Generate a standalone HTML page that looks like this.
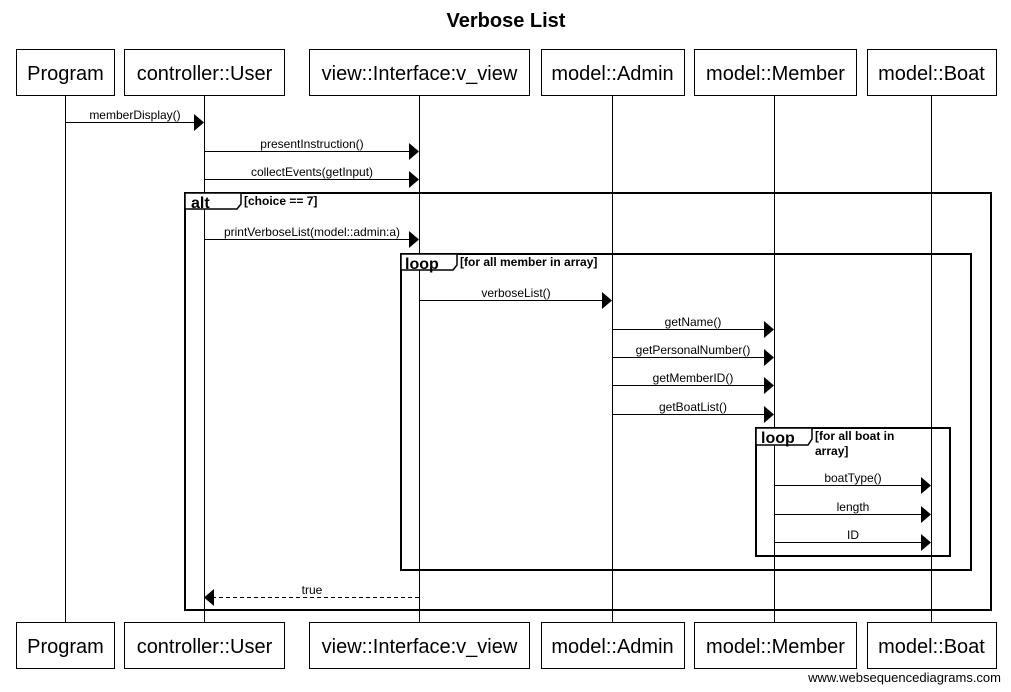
<!DOCTYPE html>
<html><head><style>
html,body{margin:0;padding:0;background:#fff;}
svg{display:block;font-family:"Liberation Sans",sans-serif;}
.b{font-size:20px;}
.m{font-size:12px;}
.f{font-size:12px;font-weight:bold;}
</style></head><body>
<svg width="1011" height="692" viewBox="0 0 1011 692">
<rect width="1011" height="692" fill="#fff"/>
<text x="506" y="27" text-anchor="middle" font-size="20" font-weight="bold">Verbose List</text>
<g stroke="#000" stroke-width="1">
<line x1="65.5" y1="95" x2="65.5" y2="622"/>
<line x1="204.5" y1="95" x2="204.5" y2="622"/>
<line x1="419.5" y1="95" x2="419.5" y2="622"/>
<line x1="612.5" y1="95" x2="612.5" y2="622"/>
<line x1="774.5" y1="95" x2="774.5" y2="622"/>
<line x1="931.5" y1="95" x2="931.5" y2="622"/>
</g>
<g fill="#fff" stroke="#000" stroke-width="1">
<rect x="16.5" y="49.5" width="98" height="46"/>
<rect x="124.5" y="49.5" width="160" height="46"/>
<rect x="309.5" y="49.5" width="220" height="46"/>
<rect x="541.5" y="49.5" width="143" height="46"/>
<rect x="694.5" y="49.5" width="162" height="46"/>
<rect x="867.5" y="49.5" width="129" height="46"/>
<rect x="16.5" y="622.5" width="98" height="46"/>
<rect x="124.5" y="622.5" width="160" height="46"/>
<rect x="309.5" y="622.5" width="220" height="46"/>
<rect x="541.5" y="622.5" width="143" height="46"/>
<rect x="694.5" y="622.5" width="162" height="46"/>
<rect x="867.5" y="622.5" width="129" height="46"/>
</g>
<g class="b" text-anchor="middle">
<text x="65.5" y="80">Program</text><text x="204.5" y="80">controller::User</text><text x="419.5" y="80">view::Interface:v_view</text><text x="612.5" y="80">model::Admin</text><text x="775.5" y="80">model::Member</text><text x="931.5" y="80">model::Boat</text>
<text x="65.5" y="653">Program</text><text x="204.5" y="653">controller::User</text><text x="419.5" y="653">view::Interface:v_view</text><text x="612.5" y="653">model::Admin</text><text x="775.5" y="653">model::Member</text><text x="931.5" y="653">model::Boat</text>
</g>
<g fill="none" stroke="#000" stroke-width="2">
<rect x="185" y="193" width="806" height="417"/>
<rect x="401" y="254" width="570" height="316"/>
<rect x="756" y="428" width="194" height="128"/>
</g>
<g fill="#fff" stroke="#000" stroke-width="1.5">
<path d="M185 193 H241 V204 L237 209 H185 Z"/>
<path d="M401 254 H457 V265 L453 270 H401 Z"/>
<path d="M756 428 H812 V439 L808 445 H756 Z"/>
</g>
<g font-size="16" font-weight="bold">
<text x="191" y="208">alt</text><text x="405" y="269">loop</text><text x="761" y="443">loop</text>
</g>
<g class="f">
<text x="244" y="205">[choice == 7]</text>
<text x="460" y="266">[for all member in array]</text>
<text x="815" y="440">[for all boat in</text><text x="815" y="455">array]</text>
</g>
<g stroke="#000" stroke-width="1">
<line x1="65" y1="122.5" x2="196" y2="122.5"/>
<line x1="204" y1="151.5" x2="411" y2="151.5"/>
<line x1="204" y1="179.5" x2="411" y2="179.5"/>
<line x1="204" y1="239.5" x2="411" y2="239.5"/>
<line x1="419" y1="300.5" x2="604" y2="300.5"/>
<line x1="612" y1="329.5" x2="766" y2="329.5"/>
<line x1="612" y1="357.5" x2="766" y2="357.5"/>
<line x1="612" y1="385.5" x2="766" y2="385.5"/>
<line x1="612" y1="414.5" x2="766" y2="414.5"/>
<line x1="774" y1="485.5" x2="923" y2="485.5"/>
<line x1="774" y1="514.5" x2="923" y2="514.5"/>
<line x1="774" y1="542.5" x2="923" y2="542.5"/>
<line x1="212" y1="597.5" x2="419" y2="597.5" stroke-dasharray="4,3"/>
</g>
<g fill="#000">
<path d="M194 114 L204 122.5 L194 131 Z"/>
<path d="M409 143 L419 151.5 L409 160 Z"/>
<path d="M409 171 L419 179.5 L409 188 Z"/>
<path d="M409 231 L419 239.5 L409 248 Z"/>
<path d="M602 292 L612 300.5 L602 309 Z"/>
<path d="M764 321 L774 329.5 L764 338 Z"/>
<path d="M764 349 L774 357.5 L764 366 Z"/>
<path d="M764 377 L774 385.5 L764 394 Z"/>
<path d="M764 406 L774 414.5 L764 423 Z"/>
<path d="M921 477 L931 485.5 L921 494 Z"/>
<path d="M921 506 L931 514.5 L921 523 Z"/>
<path d="M921 534 L931 542.5 L921 551 Z"/>
<path d="M214 589 L204 597.5 L214 606 Z"/>
</g>
<g class="m" text-anchor="middle">
<text x="135" y="119">memberDisplay()</text>
<text x="312" y="148">presentInstruction()</text>
<text x="312" y="176">collectEvents(getInput)</text>
<text x="312" y="236">printVerboseList(model::admin:a)</text>
<text x="516" y="297">verboseList()</text>
<text x="693" y="326">getName()</text>
<text x="693" y="354">getPersonalNumber()</text>
<text x="693" y="382">getMemberID()</text>
<text x="693" y="411">getBoatList()</text>
<text x="853" y="482">boatType()</text>
<text x="853" y="511">length</text>
<text x="853" y="539">ID</text>
<text x="312" y="594">true</text>
</g>
<text x="1001" y="682" text-anchor="end" font-size="13">www.websequencediagrams.com</text>
</svg>
</body></html>
